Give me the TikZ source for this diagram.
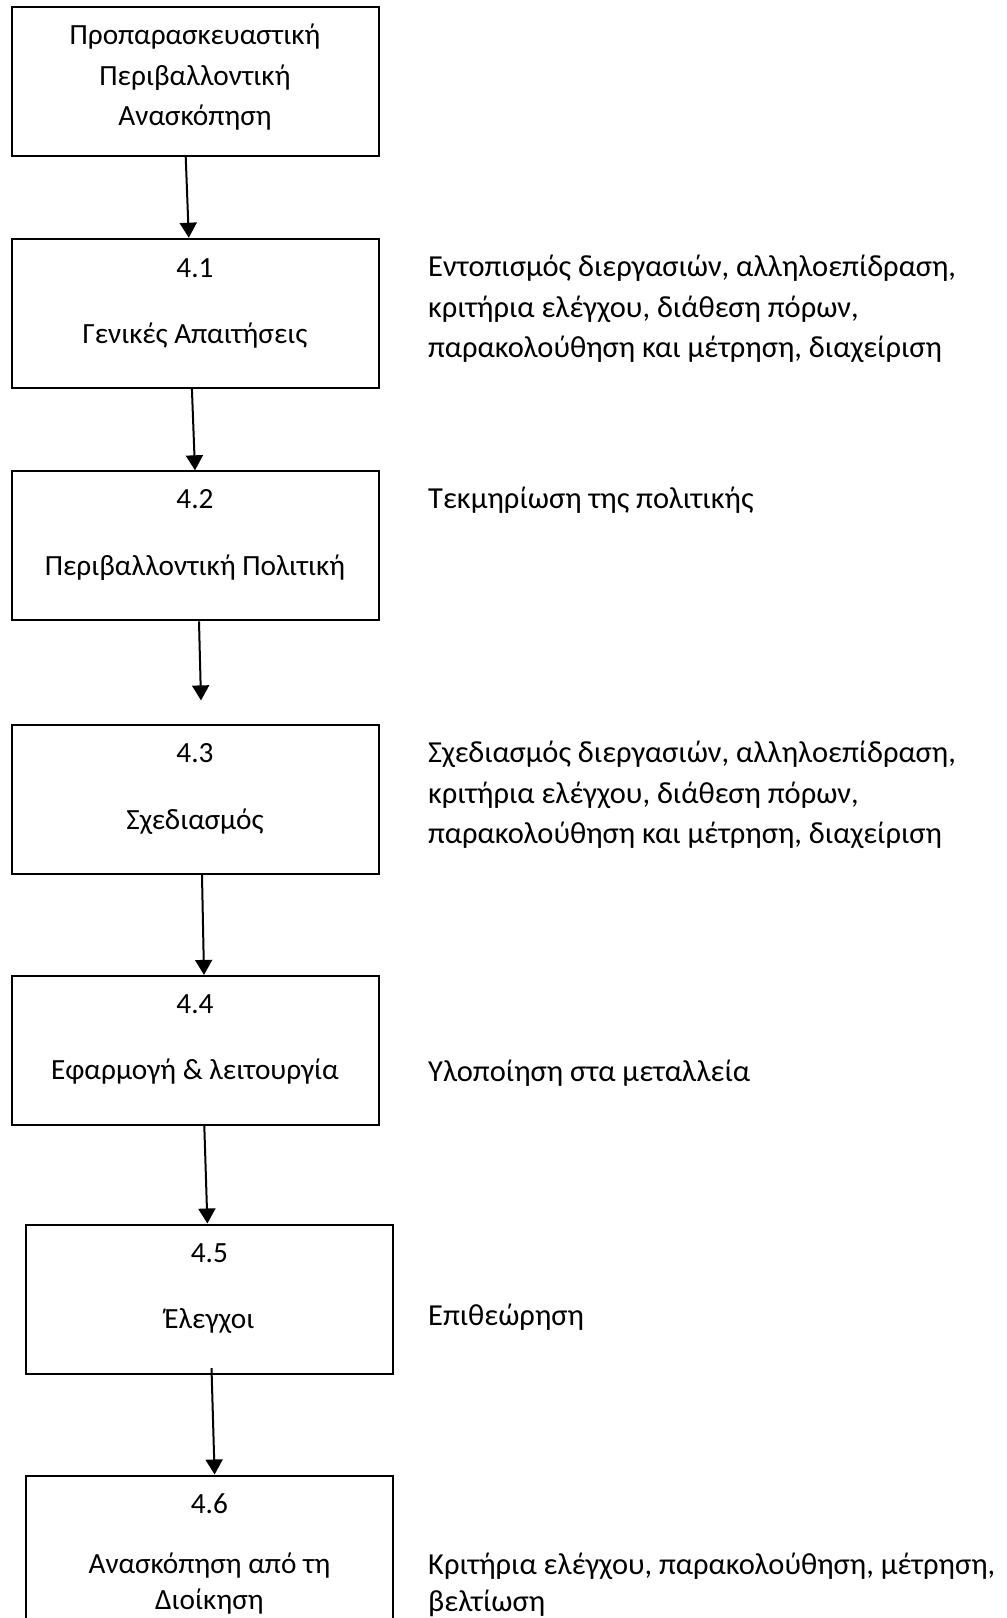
\documentclass[tikz,border=0pt]{standalone}
\usepackage{fontspec}
\setmainfont{Carlito}
\usetikzlibrary{arrows.meta,positioning}

\begin{document}
\begin{tikzpicture}[x=1pt,y=1pt]
\tikzstyle{box}=[draw, line width=2pt, minimum width=367pt, minimum height=149pt, inner sep=0pt]
\tikzstyle{txt}=[align=center, inner sep=0pt, font=\fontsize{29.3}{40.5}\selectfont]
\tikzstyle{note}=[align=left, anchor=west, inner sep=0pt, font=\fontsize{30.5}{40.8}\selectfont]
\tikzstyle{flow}=[-{Triangle[width=17pt,length=15pt]}, line width=2pt]
\useasboundingbox (0,0) rectangle (1007,-1618);
\clip (0,0) rectangle (1007,-1618);

% main chain
\node[box] (b0) at (195,-81) {};
\node[box] (b1) at (195,-313.2) {};
\node[box] (b2) at (195,-545.8) {};
\node[box] (b3) at (195,-799.7) {};
\node[box] (b4) at (195,-1050.4) {};
\node[box] (b5) at (209.4,-1299) {};
\node[box] (b6) at (209.4,-1550) {};

\node[txt] (t0) at (b0) [yshift=3.6] {Προπαρασκευαστική\\Περιβαλλοντική\\Ανασκόπηση};
\node[txt] (n1) at ([yshift=-30]b1.north) {4.1};
\node[txt] (t1) at ([yshift=-98]b1.north) {Γενικές Απαιτήσεις};
\node[txt] (n2) at ([yshift=-29]b2.north) {4.2};
\node[txt] (t2) at ([yshift=-97]b2.north) {Περιβαλλοντική Πολιτική};
\node[txt] (n3) at ([yshift=-29]b3.north) {4.3};
\node[txt] (t3) at ([yshift=-97]b3.north) {Σχεδιασμός};
\node[txt] (n4) at ([yshift=-29]b4.north) {4.4};
\node[txt] (t4) at ([yshift=-97]b4.north) {Εφαρμογή \& λειτουργία};
\node[txt] (n5) at ([yshift=-30]b5.north) {4.5};
\node[txt] (t5) at ([yshift=-97]b5.north) {Έλεγχοι};
\node[txt] (n6) at ([yshift=-29]b6.north) {4.6};
\node[txt, font=\fontsize{29.3}{36.1}\selectfont] (t6) at ([yshift=-109]b6.north) {Ανασκόπηση από τη\\Διοίκηση};

% notes on the right
\node[note] (r1) at (428,-309) {Εντοπισμός διεργασιών, αλληλοεπίδραση,\\κριτήρια ελέγχου, διάθεση πόρων,\\παρακολούθηση και μέτρηση, διαχείριση};
\node[note] (r2) at (428,-500.4) {Τεκμηρίωση της πολιτικής};
\node[note] (r3) at (428,-795) {Σχεδιασμός διεργασιών, αλληλοεπίδραση,\\κριτήρια ελέγχου, διάθεση πόρων,\\παρακολούθηση και μέτρηση, διαχείριση};
\node[note] (r4) at (428,-1073) {Υλοποίηση στα μεταλλεία};
\node[note] (r5) at (428,-1317.6) {Επιθεώρηση};
\node[note, font=\fontsize{30.5}{37.1}\selectfont] (r6) at (428,-1584.9) {Κριτήρια ελέγχου, παρακολούθηση, μέτρηση,\\βελτίωση};

\draw[flow] ([xshift=-9.3]b0.south) -- ([xshift=-6.2]b1.north);
\draw[flow] ([xshift=-3.1]b1.south) -- (b2.north);
\draw[flow] ([xshift=4]b2.south) -- ([xshift=6,yshift=23.8]b3.north);
\draw[flow] ([xshift=7]b3.south) -- ([xshift=9]b4.north);
\draw[flow] ([xshift=9.3]b4.south) -- ([xshift=-2]b5.north);
\draw[flow] ([xshift=2.1,yshift=6.3]b5.south) -- ([xshift=5.2]b6.north);
\end{tikzpicture}
\end{document}
